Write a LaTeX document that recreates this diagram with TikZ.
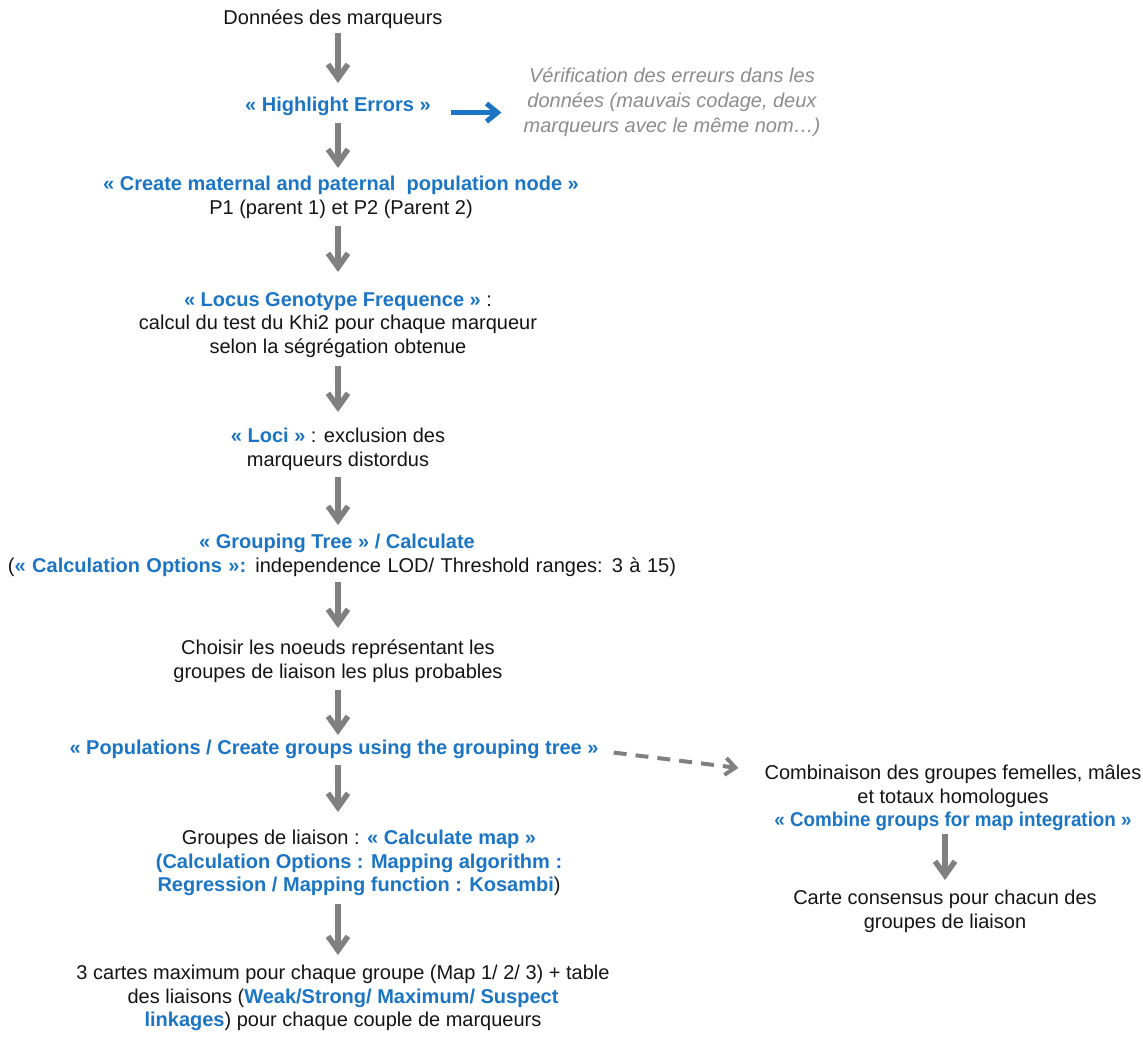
\documentclass[tikz,border=0pt]{standalone}
\usepackage{fontspec}
\setmainfont{Liberation Sans}
\usetikzlibrary{arrows.meta}
\definecolor{cblue}{RGB}{27,117,196}
\definecolor{cgray}{RGB}{128,128,128}
\definecolor{ctxtgray}{RGB}{140,140,140}
\definecolor{ctxt}{RGB}{20,20,20}
\newcommand\hlt[1]{\textcolor{cblue}{\bfseries #1}}
\begin{document}
\begin{tikzpicture}[x=1pt,y=-1pt,
  txt/.style={anchor=north, align=center, inner sep=0pt, text=ctxt, font=\fontsize{20}{23.5}\selectfont},
  garrow/.style={draw=cgray, line width=5.5pt, -{Straight Barb[length=14pt,width=20pt]}},
  barrow/.style={draw=cblue, line width=5pt, -{Straight Barb[length=11pt,width=18pt]}},
  darrow/.style={draw=cgray, line width=4pt, dash pattern=on 13pt off 9pt, -{Straight Barb[length=10pt,width=17pt]}}]
\useasboundingbox (0,0) rectangle (1143,1036);
\coordinate (sp) at (338,0);
\node[txt] (d1) at (333,10) {Données des marqueurs};
\node[txt] (hl) at (338,97) {\hlt{« Highlight Errors »}};
\node[txt, text=ctxtgray, font=\fontsize{20}{25}\selectfont\itshape] (ver) at (672,68) {Vérification des erreurs dans les\\données (mauvais codage, deux\\marqueurs avec le même nom…)};
\node[txt] (cr) at (341,176) {\hlt{« Create maternal and paternal \ population node »}\\P1 (parent 1) et P2 (Parent 2)};
\node[txt] (lo) at (338,292) {\hlt{« Locus Genotype Frequence »} :\\calcul du test du Khi2 pour chaque marqueur\\selon la ségrégation obtenue};
\node[txt] (lc) at (338,428) {\hlt{« Loci »} : exclusion des\\marqueurs distordus};
\node[txt] (gt) at (337,534) {\hlt{« Grouping Tree » / Calculate}};
\node[txt] (gto) at (342,558) {\makebox[668pt][s]{(\hlt{« Calculation Options »:} independence LOD/ Threshold ranges: 3 à 15)}};
\node[txt] (ch) at (338,640) {Choisir les noeuds représentant les\\groupes de liaison les plus probables};
\node[txt] (po) at (334,740) {\hlt{« Populations / Create groups using the grouping tree »}};
\node[txt] (gl) at (359,830) {Groupes de liaison : \hlt{« Calculate map »}\\\hlt{(Calculation Options : Mapping algorithm :}\\\hlt{Regression / Mapping function : Kosambi})};
\node[txt] (tc) at (343,965) {3 cartes maximum pour chaque groupe (Map 1/ 2/ 3) + table\\des liaisons (\hlt{Weak/Strong/ Maximum/ Suspect}\\\hlt{linkages}) pour chaque couple de marqueurs};
\node[txt] (cb) at (953,765) {Combinaison des groupes femelles, mâles\\et totaux homologues\\\scalebox{0.94}[1]{\hlt{« Combine groups for map integration »}}};
\node[txt] (cc) at (945,890) {Carte consensus pour chacun des\\groupes de liaison};
\draw[garrow, shorten <=4pt, shorten >=14pt] (d1.south -| sp) -- (hl.north -| sp);
\draw[garrow, shorten <=7pt, shorten >=8pt] (hl.south -| sp) -- (cr.north -| sp);
\draw[garrow, shorten <=7pt, shorten >=20pt] (cr.south -| sp) -- (lo.north -| sp);
\draw[garrow, shorten <=8pt, shorten >=16pt] (lo.south -| sp) -- (lc.north -| sp);
\draw[garrow, shorten <=6pt, shorten >=9pt] (lc.south -| sp) -- (gt.north -| sp);
\draw[garrow, shorten <=5pt, shorten >=12pt] (gto.south -| sp) -- (ch.north -| sp);
\draw[garrow, shorten <=7pt, shorten >=5pt] (ch.south -| sp) -- (po.north -| sp);
\draw[garrow, shorten <=6pt, shorten >=18pt] (po.south -| sp) -- (gl.north -| sp);
\draw[garrow, shorten <=8pt, shorten >=10pt] (gl.south -| sp) -- (tc.north -| sp);
\draw[garrow, shorten <=3pt, shorten >=10pt] (cb.south -| cc) -- (cc.north);
\draw[barrow] ([xshift=20pt,yshift=-6pt]hl.east) -- ([xshift=-22pt,yshift=-6pt]hl.east -| ver.west);
\draw[darrow] ([xshift=15pt,yshift=-3pt]po.east) -- ([xshift=-26pt,yshift=-3pt]cb.north west);
\end{tikzpicture}
\end{document}
